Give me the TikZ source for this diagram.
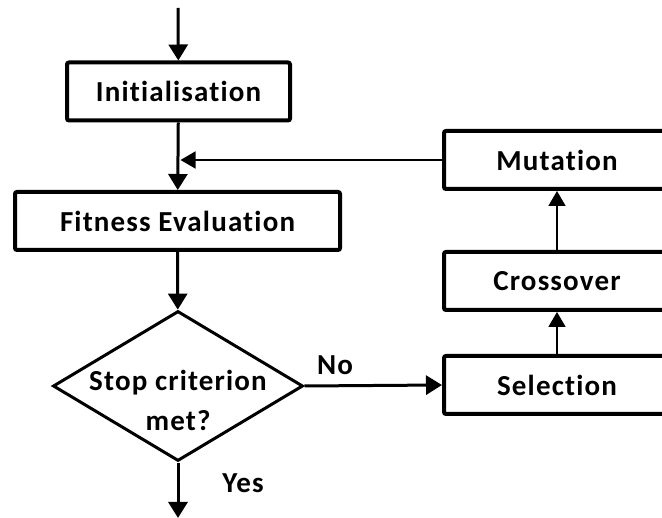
\documentclass[tikz,border=0pt]{standalone}
\usepackage{fontspec}
\setmainfont{Carlito}[Ligatures=NoCommon,LetterSpace=4]
\usetikzlibrary{positioning,arrows.meta,shapes.geometric}

\begin{document}
\begin{tikzpicture}[
  x=1pt,y=-1pt,
  font=\fontsize{29}{40}\selectfont\bfseries,
  stepbox/.style={draw,line width=4pt,rounded corners=2pt,inner sep=0pt,minimum height=58pt},
  decision/.style={draw,diamond,line width=3pt,inner sep=0pt,minimum width=250pt,minimum height=150pt},
  arr/.style={line width=3pt,-{Triangle[length=16pt,width=19pt]}},
  thinarr/.style={line width=1.6pt,-{Triangle[length=15pt,width=17pt]}}]
\clip (0,0) rectangle (662,518);
% main column
\coordinate (start) at (178,8);
\node[stepbox,minimum width=223pt] (init) at (178.5,91.5) {Initialisation};
\node[stepbox,minimum width=325pt] (fit)  at (177.5,221)  {Fitness Evaluation};
\node[decision] (stop) at (178,386) {};
\node[align=center] (stoptxt) at (178,400) {Stop criterion\\met?};
\coordinate (finish) at (178,518);
% operator column
\node[stepbox,minimum width=226pt] (sel) at (557,385) {Selection};
\node[stepbox,minimum width=226pt] (cro) at (557,281) {Crossover};
\node[stepbox,minimum width=226pt] (mut) at (557,160) {Mutation};
\coordinate (join) at (init.south |- mut.west);
% labels
\node (no)  at (335,365) {No};
\node (yes) at (243,483) {Yes};
% flow
\draw[arr] (start)--(init);
\draw[arr] (init)--(fit);
\draw[arr] (fit)--(stop);
\draw[arr] (stop)--(finish);
\draw[arr] (stop.east)--(sel.west);
\draw[thinarr] (sel)--(cro);
\draw[thinarr] (cro)--(mut);
\draw[thinarr,shorten >=2pt] (mut.west)--(join);
\end{tikzpicture}
\end{document}
